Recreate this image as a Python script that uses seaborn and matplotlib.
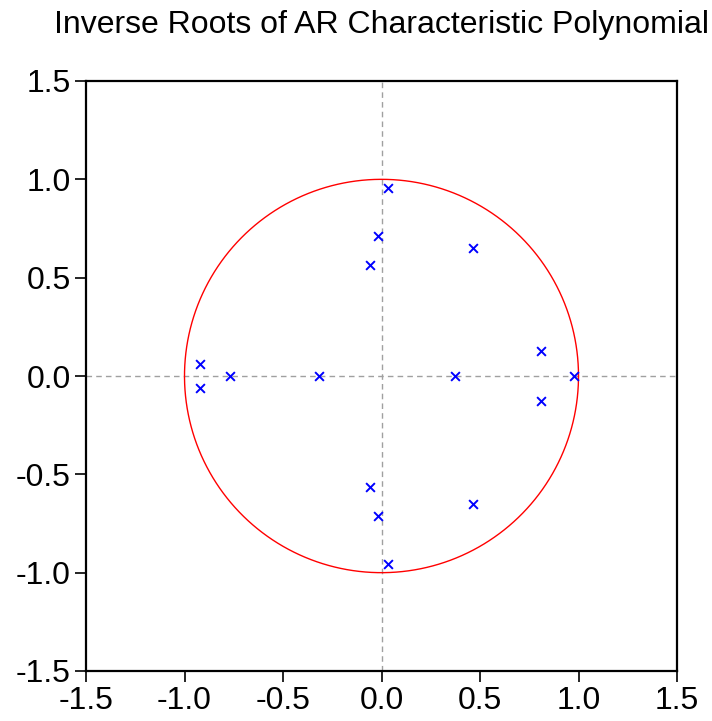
import numpy as np
import pandas as pd
import seaborn as sns
import matplotlib.pyplot as plt

# inverse roots
real_part = [0.035, -0.02, -0.056, 0.466, 0.811, 0.811, 0.978, 0.375, -0.319,
             -0.770, -0.922, -0.922, -0.056, -0.02, 0.035, 0.466]
imag_part = [0.954, 0.714, 0.566, 0.653, 0.128, -0.128, 0.0, 0.0, 0.0,
             0.0, 0.061, -0.061, -0.566, -0.714, -0.954, -0.653]
ticks = [-1.5, -1.0, -0.5, 0.0, 0.5, 1.0, 1.5]

roots = pd.DataFrame({'re': real_part, 'im': imag_part})

sns.set_style('white')
plt.rcParams['font.family'] = ['Liberation Sans', 'DejaVu Sans']

fig = plt.figure(figsize=(7.12, 7.21), dpi=100)
ax = fig.add_axes([86 / 712, 1 - 671 / 721, 591 / 712, 590 / 721])

# unit circle and zero lines
theta = np.linspace(0, 2 * np.pi, 400)
ax.plot(np.cos(theta), np.sin(theta), color='red', lw=1.0, zorder=2)
ax.axhline(0, color='#a0a0a0', lw=1.0, ls=(0, (4, 3)), zorder=1)
ax.axvline(0, color='#a0a0a0', lw=1.0, ls=(0, (4, 3)), zorder=1)

sns.scatterplot(data=roots, x='re', y='im', marker='x', color='blue', s=40,
                linewidth=1.4, ax=ax, zorder=3)

ax.set_xlim(-1.5, 1.5)
ax.set_ylim(-1.5, 1.5)
ax.set_xticks(ticks)
ax.set_yticks(ticks)
ax.set_xticklabels([f'{t:.1f}' for t in ticks])
ax.set_yticklabels([f'{t:.1f}' for t in ticks])
ax.set_xlabel('')
ax.set_ylabel('')
ax.tick_params(axis='both', direction='out', length=8, width=1.2, labelsize=23,
               bottom=True, left=True, color='black', labelcolor='black', pad=3)
for s in ax.spines.values():
    s.set_color('black')
    s.set_linewidth(1.6)

fig.text(382 / 712, 1 - 25 / 721, 'Inverse Roots of AR Characteristic Polynomial',
         ha='center', va='center', fontsize=23, color='black')

fig.savefig('out.png', dpi=100)
